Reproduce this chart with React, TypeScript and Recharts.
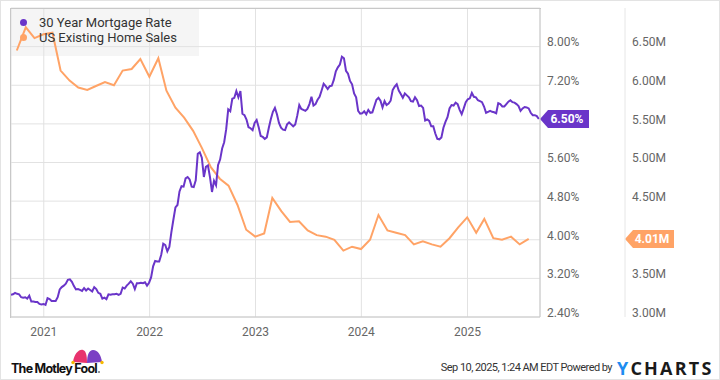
import React from "react";
import { ComposedChart, Line, XAxis, YAxis, CartesianGrid, ReferenceLine } from "recharts";

// 30 year mortgage rate, weekly (Thursdays) starting Sep 10, 2020
const rateStart = Date.UTC(2020, 8, 10);
const rateValues = [
  // 2020
  2.86, 2.87, 2.9, 2.88, 2.87, 2.81, 2.8, 2.81, 2.78, 2.84, 2.72, 2.72, 2.71, 2.71, 2.67, 2.66, 2.67,
  // 2021
  2.65, 2.79, 2.77, 2.73, 2.73, 2.73, 2.81, 2.97, 3.02, 3.05, 3.09, 3.17, 3.18, 3.13, 3.04, 2.97, 2.98,
  2.96, 2.94, 3.0, 2.95, 2.99, 2.96, 2.93, 3.02, 2.98, 2.9, 2.88, 2.78, 2.8, 2.77, 2.87, 2.86, 2.87,
  2.87, 2.88, 2.86, 2.88, 3.01, 2.99, 3.05, 3.09, 3.14, 3.09, 2.98, 3.1, 3.1, 3.11, 3.1, 3.12, 3.05, 3.11,
  // 2022
  3.22, 3.45, 3.56, 3.55, 3.55, 3.69, 3.92, 3.89, 3.76, 3.85, 4.16, 4.42, 4.67, 4.72, 5.0, 5.11, 5.1,
  5.27, 5.3, 5.25, 5.1, 5.09, 5.23, 5.78, 5.81, 5.7, 5.3, 5.51, 5.54, 5.3, 4.99, 5.22, 5.13, 5.55,
  5.66, 5.89, 6.02, 6.29, 6.7, 6.66, 6.92, 6.94, 7.08, 6.95, 7.08, 6.61, 6.58, 6.49, 6.33, 6.31, 6.27, 6.42,
  // 2023
  6.48, 6.33, 6.15, 6.13, 6.09, 6.12, 6.32, 6.5, 6.65, 6.73, 6.6, 6.42, 6.32, 6.28, 6.27, 6.39, 6.43,
  6.39, 6.35, 6.39, 6.57, 6.79, 6.71, 6.69, 6.67, 6.71, 6.81, 6.96, 6.78, 6.81, 6.9, 6.96, 7.09, 7.23, 7.18,
  7.12, 7.18, 7.19, 7.31, 7.49, 7.57, 7.63, 7.79, 7.76, 7.5, 7.44, 7.29, 7.22, 7.03, 6.95, 6.67, 6.61,
  // 2024
  6.62, 6.66, 6.6, 6.69, 6.63, 6.64, 6.77, 6.9, 6.94, 6.88, 6.74, 6.87, 6.79, 6.82, 6.88, 7.1, 7.17,
  7.22, 7.09, 7.02, 6.94, 7.03, 6.99, 6.95, 6.87, 6.86, 6.95, 6.89, 6.77, 6.78, 6.73, 6.47, 6.49, 6.46, 6.35,
  6.35, 6.2, 6.09, 6.08, 6.12, 6.32, 6.44, 6.54, 6.72, 6.79, 6.78, 6.84, 6.81, 6.69, 6.6, 6.72, 6.85,
  // 2025
  6.91, 6.93, 7.04, 6.96, 6.95, 6.89, 6.87, 6.85, 6.76, 6.63, 6.65, 6.67, 6.65, 6.64, 6.62, 6.83, 6.81,
  6.76, 6.76, 6.81, 6.86, 6.89, 6.85, 6.84, 6.81, 6.77, 6.67, 6.72, 6.75, 6.74, 6.72, 6.63, 6.58, 6.58, 6.56,
  6.5,
];

// US existing home sales (millions, SAAR), monthly from Sep 2020
const salesStart = [2020, 8];
const salesValues = [
  6.45, 6.75, 6.61, 6.66,
  6.68, 6.19, 6.06, 5.97, 5.94, 5.99, 6.04, 6.0, 6.19, 6.21, 6.34, 6.11,
  6.35, 5.93, 5.71, 5.58, 5.41, 5.19, 4.94, 4.79, 4.7, 4.45, 4.13, 4.04,
  4.08, 4.54, 4.37, 4.23, 4.24, 4.12, 4.06, 4.04, 4.0, 3.86, 3.91, 3.88,
  4.0, 4.32, 4.12, 4.09, 4.06, 3.94, 3.98, 3.94, 3.91, 4.02, 4.16, 4.29,
  4.09, 4.27, 4.02, 4.0, 4.04, 3.94, 4.01,
];

const years = [2021, 2022, 2023, 2024, 2025];
const rateTicks = [2.4, 3.2, 4.0, 4.8, 5.6, 6.4, 7.2, 8.0, 8.8];
const salesTicks = [3.0, 3.5, 4.0, 4.5, 5.0, 5.5, 6.0, 6.5, 7.0];
const rateHidden = [6.4, 8.8];
const salesHidden = [4.0, 7.0];
const lastRate = 6.5;
const lastSales = 4.01;

const PURPLE = "#6a35c9";
const ORANGE = "#ffa366";
const RATE_AXIS_W = 85;

const DAY = 86400000;
const rateData = rateValues.map((v, i) => ({ t: rateStart + i * 7 * DAY, v }));
const salesData = salesValues.map((v, i) => ({
  t: Date.UTC(salesStart[0], salesStart[1] + i + 1, 0),
  v,
}));
const xDomain = [Date.UTC(2020, 8, 10), Date.UTC(2025, 8, 8)];
const yearTicks = years.map((y) => Date.UTC(y, 0, 1));

const font = "Roboto, 'Noto Sans', sans-serif";

function YTick(props: any) {
  const { x, y, payload, hidden, suffix } = props;
  if (hidden.some((h: number) => Math.abs(h - payload.value) < 1e-6)) return null;
  return (
    <text x={x - 1} y={y - 4.5} dy="0.355em" textAnchor="start" fontSize={12} fill="#666" fontFamily={font}>
      {payload.value.toFixed(2)}
      {suffix}
    </text>
  );
}

function XTick(props: any) {
  const { x, y, payload } = props;
  return (
    <text x={x} y={y + 6.5} dy="0.355em" textAnchor="middle" fontSize={12} fill="#666" fontFamily={font}>
      {new Date(payload.value).getUTCFullYear()}
    </text>
  );
}

function Tag(props: any) {
  const { viewBox, text, color, shift } = props;
  const tx = viewBox.x + viewBox.width + shift;
  const cy = viewBox.y;
  const pts = `${tx},${cy} ${tx + 8},${cy - 9} ${tx + 49},${cy - 9} ${tx + 49},${cy + 9} ${tx + 8},${cy + 9}`;
  return (
    <g>
      <polygon points={pts} fill={color} />
      <text x={tx + 27} y={cy} dy="0.355em" textAnchor="middle" fontSize={12} fontWeight="bold" fill="#fff" fontFamily={font}>
        {text}
      </text>
    </g>
  );
}

export default function App() {
  return (
    <div
      style={{
        position: "absolute",
        left: 0,
        top: 0,
        width: 720,
        height: 380,
        background: "#fff",
        fontFamily: font,
        boxSizing: "border-box",
        border: "1px solid #e3e3e3",
        overflow: "hidden",
      }}
    >
      {/* legend box, under the plot */}
      <div style={{ position: "absolute", left: 10, top: 8, width: 188, height: 47, background: "#f5f5f5" }} />
      <div style={{ position: "absolute", left: -1, top: -1 }}>
        <ComposedChart width={720} height={380} margin={{ top: 8, right: 0, left: 11, bottom: 0 }}>
          <CartesianGrid yAxisId="rate" stroke="#e2e2e2" strokeWidth={1} />
          <XAxis
            dataKey="t"
            type="number"
            domain={xDomain}
            ticks={yearTicks}
            interval={0}
            allowDataOverflow
            height={63}
            tickLine={false}
            axisLine={{ stroke: "#c8c8c8" }}
            tick={<XTick />}
          />
          <YAxis
            yAxisId="rate"
            orientation="right"
            domain={[2.4, 8.8]}
            ticks={rateTicks}
            width={RATE_AXIS_W}
            tickLine={false}
            axisLine={{ stroke: "#c8c8c8" }}
            tick={<YTick hidden={rateHidden} suffix="%" />}
            interval={0}
          />
          <YAxis
            yAxisId="sales"
            orientation="right"
            domain={[3, 7]}
            ticks={salesTicks}
            width={95}
            tickLine={false}
            axisLine={{ stroke: "#e6e6e6" }}
            tick={<YTick hidden={salesHidden} suffix="M" />}
            interval={0}
          />
          <Line
            yAxisId="sales"
            data={salesData}
            dataKey="v"
            type="linear"
            stroke={ORANGE}
            strokeWidth={2}
            dot={false}
            isAnimationActive={false}
          />
          <Line
            yAxisId="rate"
            data={rateData}
            dataKey="v"
            type="linear"
            stroke={PURPLE}
            strokeWidth={2}
            dot={false}
            isAnimationActive={false}
          />
          <ReferenceLine
            yAxisId="rate"
            y={lastRate}
            stroke="none"
            label={(p: any) => <Tag {...p} text="6.50%" color={PURPLE} shift={0} />}
          />
          <ReferenceLine
            yAxisId="sales"
            y={lastSales}
            stroke="none"
            label={(p: any) => <Tag {...p} text="4.01M" color={ORANGE} shift={RATE_AXIS_W} />}
          />
        </ComposedChart>
      </div>
      {/* plot border left/top */}
      <div
        style={{
          position: "absolute",
          left: 9,
          top: 7,
          width: 531,
          height: 310,
          boxSizing: "border-box",
          borderLeft: "1px solid #c8c8c8",
          borderTop: "1px solid #c8c8c8",
          pointerEvents: "none",
        }}
      />
      {/* legend text */}
      <div style={{ position: "absolute", left: 10, top: 8, width: 188, fontSize: 13, color: "#333", lineHeight: "15px" }}>
        <div style={{ position: "absolute", left: 9, top: 6, whiteSpace: "nowrap", display: "flex", alignItems: "center" }}>
          <span style={{ width: 7, height: 7, borderRadius: 4, background: PURPLE, display: "inline-block", marginRight: 12 }} />
          30 Year Mortgage Rate
        </div>
        <div style={{ position: "absolute", left: 9, top: 21, whiteSpace: "nowrap", display: "flex", alignItems: "center" }}>
          <span style={{ width: 7, height: 7, borderRadius: 4, background: ORANGE, display: "inline-block", marginRight: 12 }} />
          US Existing Home Sales
        </div>
      </div>
      {/* footer */}
      <svg style={{ position: "absolute", left: -1, top: 339 }} width={120} height={40}>
        <g transform="translate(71,8)">
          <path d="M2,14 C3,6 8,1 12,2 C15,3 16,7 16,15 Z" fill="#e8336e" />
          <path d="M16,15 C16,7 18,2 22,2 C27,2 30,7 31,14 Z" fill="#7b3fc4" />
          <circle cx={2} cy={14.5} r={1.7} fill="#f5b800" />
          <circle cx={31} cy={14.5} r={1.7} fill="#f5b800" />
        </g>
        <circle cx={99} cy={32} r={0.8} fill="#111" />
      </svg>
      <div
        style={{
          position: "absolute",
          left: 10,
          top: 360,
          fontSize: 12.5,
          fontWeight: 700,
          color: "#111",
          letterSpacing: -0.75,
          lineHeight: "16px",
          whiteSpace: "nowrap",
          fontFamily: "Inter, Roboto, sans-serif",
        }}
      >
        The Motley Fool
      </div>
      <div
        style={{
          position: "absolute",
          right: 107,
          top: 360,
          fontSize: 11,
          lineHeight: "14px",
          color: "#333",
          whiteSpace: "nowrap",
          letterSpacing: -0.55,
        }}
      >
        Sep 10, 2025, 1:24 AM EDT Powered by
      </div>
      <div
        style={{
          position: "absolute",
          left: 616,
          top: 356,
          fontSize: 18,
          fontWeight: 700,
          letterSpacing: 2.2,
          lineHeight: "22px",
          whiteSpace: "nowrap",
          fontFamily: "'Open Sans', Roboto, sans-serif",
        }}
      >
        <span style={{ color: "#1e8cf0" }}>Y</span>
        <span style={{ color: "#1a1a1a" }}>CHARTS</span>
      </div>
    </div>
  );
}
